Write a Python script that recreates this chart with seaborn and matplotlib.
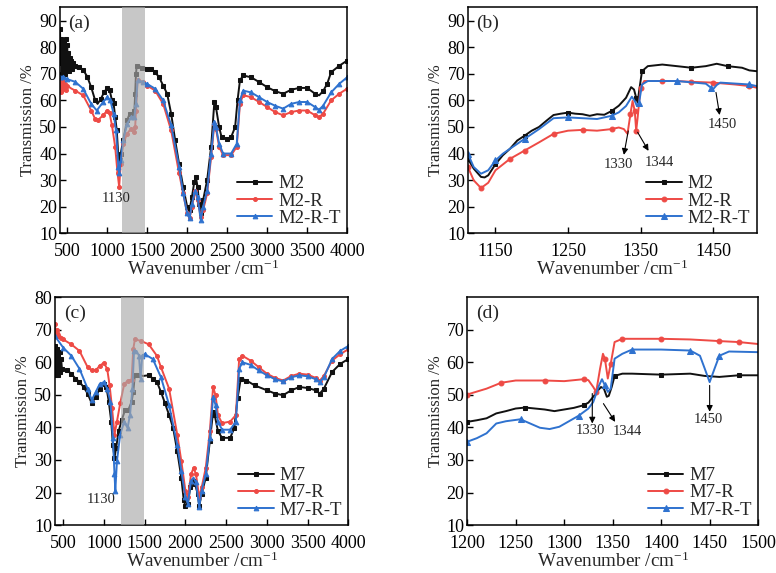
import matplotlib
matplotlib.use("Agg")
import matplotlib.pyplot as plt
import seaborn as sns
import pandas as pd

# ---------------- data ----------------
# Panel (a): M2 series, full range
a_m2_x = [410,418,425,432,440,447,455,462,470,478,485,492,500,508,515,522,530,540,550,560,575,600,625,650,700,750,800,850,880,920,960,1000,1030,1060,1080,1100,1120,1140,1155,1170,1200,1250,1280,1320,1340,1350,1360,1370,1400,1430,1450,1500,1550,1600,1650,1700,1750,1800,1850,1900,1950,2000,2030,2060,2090,2110,2130,2150,2170,2200,2250,2300,2340,2360,2400,2430,2500,2550,2600,2630,2660,2700,2800,2900,3000,3100,3200,3300,3400,3500,3600,3650,3700,3750,3800,3900,4000]
a_m2_y = [87,74,83,70,80,71,82,72,79,70,83,73,81,72,78,71,76,73,75,72,74,73,72,72.5,71.5,69,65,60,58.7,60.5,63,64.7,64,60,59,53.7,48.7,38.7,37.5,40,45,52.5,55,54.4,56,62.5,70,73,73,72.2,72.5,72,72,70.6,68.7,65.6,62.5,55,45,36,27.5,20,18.7,23.7,29.4,31,27.5,21,17.5,22.5,30,42.5,59.4,57.5,50,46.2,45.6,46.2,50,60,67.5,69.4,68.7,66.9,65,63.5,62.5,64,64.7,64.7,62.5,61.9,63.5,66.2,70.6,73,75]
a_r_x = [410,420,430,440,450,460,470,480,500,550,600,700,800,850,880,950,1000,1030,1060,1100,1130,1150,1170,1200,1250,1300,1340,1350,1360,1380,1450,1500,1600,1700,1800,1900,1950,2000,2030,2060,2100,2130,2170,2200,2250,2300,2340,2360,2400,2450,2550,2620,2660,2700,2800,2900,3000,3100,3200,3300,3400,3500,3600,3650,3700,3800,3900,4000]
a_r_y = [66,63,67.5,64,67,64.5,66,64,65.6,64.5,63.7,61.9,56.2,53,52.5,54.4,56.2,55.2,50.6,42.5,32.5,27.5,36,43.7,47.5,49.4,48,50,56,67.5,67,65.6,63.7,58.7,48.7,32.5,25,17.5,15.6,20,26,22.5,16.2,18.7,25,38.7,51.2,49.4,42.5,39.4,39.4,42.5,58.7,62,61.2,59.4,57.5,55.6,54.4,55.6,56.2,56.2,54.4,53.7,55,60,62.5,64.4]
a_b_x = [410,450,500,600,700,800,870,950,1000,1040,1080,1110,1140,1150,1170,1200,1250,1300,1340,1360,1380,1450,1500,1600,1700,1800,1900,1950,2000,2030,2060,2100,2130,2170,2200,2250,2300,2340,2360,2400,2450,2550,2620,2660,2700,2800,2900,3000,3100,3200,3300,3400,3500,3600,3650,3700,3800,3900,4000]
a_b_y = [68.7,69,68,67,64.4,58.7,56.2,59.4,61.2,60,55,48.7,35,32.5,37.5,45,51.2,53.7,53.7,58.7,67.5,67,66.2,64.4,60,50.6,35,25,17.5,15.6,21,26,23.7,15,20,26,40,52,50,43.7,40,40,43.7,60,63.7,63,61.2,59.4,58,56.9,58.7,59.4,59.4,57.5,56.5,58,63,66.2,68.7]

# Panel (b): M2 series, 1112-1510
b_m2_x = [1112,1120,1130,1135,1140,1150,1160,1170,1180,1190,1200,1210,1220,1230,1240,1250,1260,1270,1280,1290,1300,1310,1320,1330,1337,1341,1344,1346,1348,1352,1360,1380,1400,1420,1440,1455,1470,1490,1500,1510]
b_m2_y = [38,34.3,31.2,31,31.8,36,39.3,41.8,44.9,46.7,48.6,50,52.3,54.5,55,55.4,55,54.8,54.2,54.8,54.6,56,58,61,65,64.1,61,59.2,63.5,71,72.9,73.5,72.9,72.3,72.9,73.8,72.9,72.3,71.3,71]
b_r_x = [1112,1120,1130,1140,1150,1170,1190,1210,1230,1250,1270,1290,1310,1320,1327,1332,1336,1339,1342,1344,1346,1350,1355,1380,1400,1420,1450,1480,1500,1510]
b_r_y = [34.9,29.9,27,29,33.7,38,41.1,44.2,47.4,48.6,48.9,48.6,49.2,49.8,49.2,47.4,54.8,59.8,56,48.6,53.6,64.8,67.3,67.3,67.3,67,66.7,66,65.4,64.8]
b_b_x = [1112,1120,1130,1140,1150,1160,1170,1190,1210,1230,1250,1270,1290,1310,1320,1330,1338,1342,1345,1348,1352,1360,1400,1440,1447,1450,1455,1460,1500,1510]
b_b_y = [39.9,34.9,32.4,33.7,37.4,39.9,41.8,45.5,49.2,53.3,53.6,53.3,53,54.2,55.5,57.9,61.4,59.8,57.9,59.2,66,67.3,67.3,66.3,64.8,64.2,65.8,66.7,66,65.4]

# Panel (c): M7 series, full range
c_m7_x = [400,407,414,421,428,435,442,450,458,466,475,485,500,525,550,600,650,700,750,800,850,900,950,1000,1030,1060,1090,1110,1130,1150,1180,1220,1260,1300,1340,1360,1380,1420,1480,1550,1600,1650,1700,1750,1800,1850,1900,1950,1980,2000,2030,2060,2100,2120,2150,2170,2200,2250,2300,2340,2360,2400,2450,2550,2600,2640,2680,2750,2850,3000,3100,3200,3300,3400,3500,3600,3650,3700,3800,3900,4000]
c_m7_y = [65,56,63,57,64,56,62,58,63,57,61,58,58,57.5,57.5,56.5,55,54,52.4,50.4,47.4,49.4,51.9,53.4,52.4,47.9,41.8,34.7,30.7,33.7,38.8,42.3,45.4,45.4,47.9,50.9,56,56.2,55.8,56,55,54,50.9,47.4,43.8,39.8,32.7,24.6,17.6,16,16.6,21.6,23.6,22.6,19.6,16,19.6,24.6,35.8,44.8,43.8,38.8,36.8,36.8,39.8,48.9,55,54.4,52.9,51.4,50.4,49.9,51.4,52.4,52.1,51.4,50.4,51.9,57,59.5,61]
c_r_x = [400,410,420,435,450,475,500,600,700,800,850,900,950,1000,1040,1070,1100,1130,1160,1200,1250,1300,1340,1360,1380,1450,1550,1650,1700,1800,1900,1950,2000,2030,2070,2100,2130,2170,2200,2250,2300,2340,2370,2400,2450,2550,2620,2660,2700,2800,2900,3000,3100,3200,3300,3400,3500,3600,3650,3700,3800,3900,4000]
c_r_y = [71.6,68.5,70,68,69,67.5,67,65.5,63.5,58.5,57.5,57.5,59,59.8,58,52.9,45.9,37.8,41.8,47.4,53.4,54.4,54.7,64,67,66.6,65.5,62,58.5,51.9,37.8,29.7,20.6,18.6,25.6,27.6,25.6,18.6,21.6,27.6,38.8,52.4,49.9,43.8,41.3,41.8,43.8,61,62,60.5,58.5,56.5,55.2,54.4,55.8,56.5,56.2,55.2,54.4,55.8,60.5,62.5,64]
c_b_x = [400,500,600,700,800,850,900,950,1000,1040,1080,1110,1130,1140,1160,1200,1250,1290,1320,1350,1370,1400,1430,1450,1470,1500,1600,1700,1800,1900,1950,2000,2030,2070,2100,2130,2170,2200,2250,2300,2340,2370,2400,2450,2550,2620,2660,2700,2800,2900,3000,3100,3200,3300,3400,3500,3600,3650,3700,3800,3900,4000]
c_b_y = [68,64.5,62,58,51.9,48.4,50.9,53.4,53.9,51.9,47.9,36.8,25.7,20.6,29.7,37.8,41.8,39.8,43.8,51.9,63.5,63.5,62,55,62,62.5,61,55.4,46.9,34.7,26.7,18.6,16.6,23.6,24.6,23.1,15.6,20.6,25.6,36.8,49.4,46.9,41.8,39.3,39.3,41.8,58,60,59.2,57.5,56,54.8,54.1,55.4,56,55.7,54.8,54,55.4,61,63.5,65]

# Panel (d): M7 series, 1200-1500
d_m7_x = [1200,1210,1220,1230,1240,1250,1260,1270,1280,1290,1300,1310,1320,1325,1330,1335,1338,1341,1344,1346,1349,1352,1360,1370,1400,1430,1445,1460,1480,1500]
d_m7_y = [41.7,42.2,42.8,44.3,45,45.8,46.1,45.8,45.5,45,45.5,46,46.8,47.6,49.4,51.4,52.4,51.9,49.4,49.7,52.4,55.8,56.5,56.5,56.2,56.5,55.8,55.5,56,56]
d_r_x = [1200,1220,1235,1250,1280,1300,1320,1325,1330,1333,1337,1340,1342,1345,1348,1352,1360,1400,1430,1460,1480,1500]
d_r_y = [50.1,51.9,53.7,54.4,54.4,54.2,54.8,54.5,52.4,50.9,58,62.6,61.1,55,59.5,66.2,67.2,67.2,67,66.5,66.2,65.6]
d_b_x = [1200,1210,1220,1230,1240,1255,1265,1275,1285,1295,1305,1315,1325,1330,1336,1339,1342,1345,1348,1352,1360,1370,1400,1430,1440,1445,1450,1455,1460,1470,1500]
d_b_y = [35.6,36.7,38.2,41.2,41.9,42.5,41.2,39.9,39.5,40.2,41.9,43.6,45.8,47.8,52.9,54.8,52.9,50.9,51.9,61.1,62.6,63.9,63.9,63.6,62,58,53.9,58,62,63.3,63.1]

labels_top = ["M2", "M2-R", "M2-R-T"]
labels_bot = ["M7", "M7-R", "M7-R-T"]
panel_tags = ["(a)", "(b)", "(c)", "(d)"]
full_xticks = [500, 1000, 1500, 2000, 2500, 3000, 3500, 4000]
b_xticks = [1150, 1250, 1350, 1450]
d_xticks = [1200, 1250, 1300, 1350, 1400, 1450, 1500]

# ---------------- style ----------------
sns.set_style("ticks")
plt.rcParams["font.family"] = ["Liberation Serif", "DejaVu Serif"]
plt.rcParams["mathtext.fontset"] = "custom"
plt.rcParams["mathtext.rm"] = "Liberation Serif"
plt.rcParams["mathtext.it"] = "Liberation Serif:italic"

BLACK = "#111111"
RED = "#ee4a45"
BLUE = "#2f72cf"
colors = [BLACK, RED, BLUE]
markers = ["s", "o", "^"]

fig = plt.figure(figsize=(7.76, 5.73), dpi=100)
ax_a = fig.add_axes([0.0773, 0.593, 0.370, 0.394])
ax_b = fig.add_axes([0.603, 0.593, 0.372, 0.394])
ax_c = fig.add_axes([0.0709, 0.0835, 0.378, 0.398])
ax_d = fig.add_axes([0.602, 0.0835, 0.375, 0.398])


def draw(ax, xs, ys, label, i, every, ms):
    df = pd.DataFrame({"x": xs, "y": ys})
    sns.lineplot(data=df, x="x", y="y", ax=ax, color=colors[i], label=label,
                 marker=markers[i], markersize=ms * (1.2 if i == 2 else 1.0),
                 markevery=every,
                 markeredgecolor=colors[i], markerfacecolor=colors[i],
                 linewidth=1.4, estimator=None, sort=False, zorder=2)


def style(ax, xlim, xticks, ylim, yticks, tag):
    ax.set_xlim(*xlim)
    ax.set_ylim(*ylim)
    ax.set_xticks(xticks)
    ax.set_yticks(yticks)
    for s in ax.spines.values():
        s.set_visible(True)
        s.set_linewidth(1.1)
        s.set_color("black")
    ax.tick_params(direction="in", length=4, width=1, labelsize=13,
                   top=False, right=False, colors="black")
    ax.tick_params(axis="x", pad=6.9)
    ax.tick_params(axis="y", pad=2)
    ax.set_xlabel(r"Wavenumber /cm$^{-1}$", fontsize=13.8, labelpad=-0.3)
    ax.set_ylabel("Transmission /%", fontsize=12, labelpad=2)
    ax.text(0.03, 0.93, tag, transform=ax.transAxes, fontsize=14,
            ha="left", va="center")
    ax.legend(loc="lower right", frameon=False, fontsize=13.5,
              handlelength=1.9, handletextpad=0.3, labelspacing=0.0,
              borderaxespad=0.2, borderpad=0.15)


def arrow(ax, start, end):
    ax.annotate("", xy=end, xytext=start,
                arrowprops=dict(arrowstyle="-|>", color="black", lw=0.8,
                                mutation_scale=9, shrinkA=0, shrinkB=0))


# (a)
for i, (xs, ys) in enumerate([(a_m2_x, a_m2_y), (a_r_x, a_r_y), (a_b_x, a_b_y)]):
    draw(ax_a, xs, ys, labels_top[i], i, 0.015, 2.8)
ax_a.axvspan(1180, 1475, color="#aaaaaa", alpha=0.65, lw=0, zorder=3)
ax_a.text(1110, 23, "1130", fontsize=10.5, ha="center", va="center", zorder=4)
style(ax_a, (410, 4000), full_xticks, (10, 95), list(range(10, 91, 10)), panel_tags[0])

# (b)
draw(ax_b, b_m2_x, b_m2_y, labels_top[0], 0, 0.12, 3.5)
draw(ax_b, b_r_x, b_r_y, labels_top[1], 1, 0.08, 3.5)
draw(ax_b, b_b_x, b_b_y, labels_top[2], 2, 0.12, 3.5)
arrow(ax_b, (1333, 48.5), (1327, 39.5))
arrow(ax_b, (1346, 48), (1361, 41))
arrow(ax_b, (1454, 63), (1459, 54.5))
ax_b.text(1319, 36, "1330", fontsize=10.5, ha="center", va="center")
ax_b.text(1376, 36.8, "1344", fontsize=10.5, ha="center", va="center")
ax_b.text(1463, 51, "1450", fontsize=10.5, ha="center", va="center")
style(ax_b, (1112, 1510), b_xticks, (10, 95), list(range(10, 91, 10)), panel_tags[1])

# (c)
for i, (xs, ys) in enumerate([(c_m7_x, c_m7_y), (c_r_x, c_r_y), (c_b_x, c_b_y)]):
    draw(ax_c, xs, ys, labels_bot[i], i, 0.015, 2.8)
ax_c.axvspan(1205, 1490, color="#aaaaaa", alpha=0.65, lw=0, zorder=3)
ax_c.text(965, 18, "1130", fontsize=10.5, ha="center", va="center", zorder=4)
style(ax_c, (400, 4000), full_xticks, (10, 80), list(range(10, 81, 10)), panel_tags[2])

# (d)
draw(ax_d, d_m7_x, d_m7_y, labels_bot[0], 0, 0.16, 3.5)
draw(ax_d, d_r_x, d_r_y, labels_bot[1], 1, 0.1, 3.5)
draw(ax_d, d_b_x, d_b_y, labels_bot[2], 2, 0.16, 3.5)
arrow(ax_d, (1329, 50.4), (1329, 41.2))
arrow(ax_d, (1340.5, 47.3), (1352.6, 41.7))
arrow(ax_d, (1450, 52.9), (1450, 44.8))
ax_d.text(1327, 39.2, "1330", fontsize=10.5, ha="center", va="center")
ax_d.text(1365, 38.9, "1344", fontsize=10.5, ha="center", va="center")
ax_d.text(1448.5, 42.3, "1450", fontsize=10.5, ha="center", va="center")
style(ax_d, (1200, 1500), d_xticks, (10, 80), list(range(10, 71, 10)), panel_tags[3])

fig.savefig("out.png", dpi=100)
